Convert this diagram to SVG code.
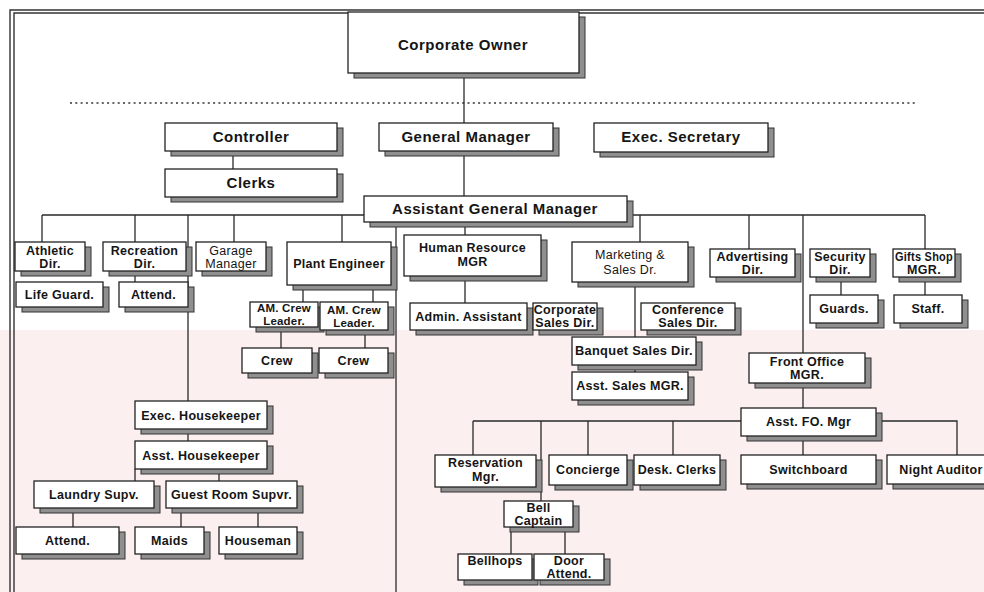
<svg xmlns="http://www.w3.org/2000/svg" width="984" height="592" viewBox="0 0 984 592">
  <style>
    .ln { stroke: #2a2a2a; stroke-width: 1.3; fill: none; }
    .fr { stroke: #333; stroke-width: 1.4; fill: none; }
    .dot { stroke: #333; stroke-width: 1.6; fill: none; stroke-dasharray: 2 3.3; }
    .bx { fill: #fff; stroke: #222; stroke-width: 1.3; }
    .sh { fill: #8f8f8f; stroke: #333; stroke-width: 1; }
    .t { font-family: "Liberation Sans", Arial, sans-serif; font-weight: bold; font-size: 12.5px; letter-spacing: 0.3px; fill: #151515; text-anchor: middle; }
    .tl { font-size: 15px; letter-spacing: 0.5px; }
    .ts { font-size: 11.5px; letter-spacing: 0.2px; }
    .n { font-weight: normal; }
  </style>

  <!-- page background with soft tinted lower band -->
  <rect x="0" y="0" width="984" height="592" fill="#ffffff"/>
  <rect x="0" y="330" width="984" height="262" fill="#fbeff0"/>

  <!-- page frame and the ownership divider -->
  <g id="frame">
    <path class="fr" d="M10 592 V10 H984"/>
    <path class="fr" d="M14 592 V13 H984"/>
    <path class="dot" d="M70 103 H915"/>
  </g>

  <g id="connectors">
    <path class="ln" d="M464 73 V123"/>
    <path class="ln" d="M233 151 V169"/>
    <path class="ln" d="M464 151 V196"/>
    <!-- left bus under the assistant GM -->
    <path class="ln" d="M42 215 H364 M42 215 V242 M135 215 V242 M188 215 V401 M234 215 V242 M342 215 V242"/>
    <!-- right bus -->
    <path class="ln" d="M627 215 H925 M640 215 V242 M749 215 V249 M803 215 V353 M925 215 V249"/>
    <path class="ln" d="M396 222 V592"/>
    <path class="ln" d="M465 222 V235 M465 276 V303"/>
    <path class="ln" d="M635 282 V337 M635 365 V372"/>
    <path class="ln" d="M841 277 V295 M925 277 V295"/>
    <path class="ln" d="M135 271 V282"/>
    <path class="ln" d="M303 285 V302 M373 285 V302 M281 327 V348 M365 330 V348"/>
    <!-- front office branch -->
    <path class="ln" d="M803 383 V408 M803 436 V455"/>
    <path class="ln" d="M473 421 H741 M876 421 H957 V455 M473 421 V455 M541 421 V501 M588 421 V455 M673 421 V455"/>
    <path class="ln" d="M511 527 V554 M565 527 V554"/>
    <!-- housekeeping branch -->
    <path class="ln" d="M188 429 V441 M135 469 V481 M219 469 V481"/>
    <path class="ln" d="M73 508 V527 M181 508 V527 M258 508 V527"/>
  </g>

  <g id="corporate-owner"><rect class="sh" x="354" y="17" width="231" height="61"/><rect class="bx" x="348" y="12" width="231" height="61"/><text class="t tl" x="463" y="50">Corporate Owner</text></g>
  <g id="controller"><rect class="sh" x="171" y="128" width="172" height="28"/><rect class="bx" x="165" y="123" width="172" height="28"/><text class="t tl" x="251" y="142">Controller</text></g>
  <g id="general-manager"><rect class="sh" x="385" y="128" width="174" height="28"/><rect class="bx" x="379" y="123" width="174" height="28"/><text class="t tl" x="466" y="142">General Manager</text></g>
  <g id="exec-secretary"><rect class="sh" x="600" y="128" width="174" height="29"/><rect class="bx" x="594" y="123" width="174" height="29"/><text class="t tl" x="681" y="142">Exec. Secretary</text></g>
  <g id="clerks"><rect class="sh" x="171" y="174" width="172" height="28"/><rect class="bx" x="165" y="169" width="172" height="28"/><text class="t tl" x="251" y="188">Clerks</text></g>
  <g id="assistant-gm"><rect class="sh" x="370" y="201" width="263" height="26"/><rect class="bx" x="364" y="196" width="263" height="26"/><text class="t tl" x="495" y="214">Assistant General Manager</text></g>

  <g id="athletic-dir"><rect class="sh" x="21" y="247" width="70" height="29"/><rect class="bx" x="15" y="242" width="70" height="29"/><text class="t" x="50" y="255">Athletic</text><text class="t" x="50" y="268">Dir.</text></g>
  <g id="recreation-dir"><rect class="sh" x="109" y="247" width="83" height="29"/><rect class="bx" x="103" y="242" width="83" height="29"/><text class="t" x="144.5" y="255">Recreation</text><text class="t" x="144.5" y="268">Dir.</text></g>
  <g id="garage-manager"><rect class="sh" x="202" y="247" width="70" height="29"/><rect class="bx" x="196" y="242" width="70" height="29"/><text class="t n" x="231" y="255">Garage</text><text class="t n" x="231" y="268">Manager</text></g>
  <g id="plant-engineer"><rect class="sh" x="293" y="247" width="104" height="43"/><rect class="bx" x="287" y="242" width="104" height="43"/><text class="t" x="339" y="268">Plant Engineer</text></g>
  <g id="life-guard"><rect class="sh" x="22" y="287" width="87" height="25"/><rect class="bx" x="16" y="282" width="87" height="25"/><text class="t" x="59.5" y="299">Life Guard.</text></g>
  <g id="recreation-attend"><rect class="sh" x="125" y="287" width="69" height="25"/><rect class="bx" x="119" y="282" width="69" height="25"/><text class="t" x="153.5" y="299">Attend.</text></g>
  <g id="crew-leader-1"><rect class="sh" x="256" y="307" width="68" height="25"/><rect class="bx" x="250" y="302" width="68" height="25"/><text class="t ts" x="284" y="312">AM. Crew</text><text class="t ts" x="284" y="325">Leader.</text></g>
  <g id="crew-leader-2"><rect class="sh" x="326" y="307" width="68" height="28"/><rect class="bx" x="320" y="302" width="68" height="28"/><text class="t ts" x="354" y="314">AM. Crew</text><text class="t ts" x="354" y="327">Leader.</text></g>
  <g id="crew-1"><rect class="sh" x="248" y="353" width="70" height="25"/><rect class="bx" x="242" y="348" width="70" height="25"/><text class="t" x="277" y="365">Crew</text></g>
  <g id="crew-2"><rect class="sh" x="325" y="353" width="69" height="25"/><rect class="bx" x="319" y="348" width="69" height="25"/><text class="t" x="353.5" y="365">Crew</text></g>

  <g id="human-resource"><rect class="sh" x="410" y="240" width="137" height="41"/><rect class="bx" x="404" y="235" width="137" height="41"/><text class="t" x="472.5" y="252">Human Resource</text><text class="t" x="472.5" y="266">MGR</text></g>
  <g id="marketing-sales"><rect class="sh" x="578" y="247" width="116" height="40"/><rect class="bx" x="572" y="242" width="116" height="40"/><text class="t n" x="630" y="259">Marketing &amp;</text><text class="t n" x="630" y="274">Sales Dr.</text></g>
  <g id="advertising-dir"><rect class="sh" x="716" y="254" width="85" height="28"/><rect class="bx" x="710" y="249" width="85" height="28"/><text class="t" x="752.5" y="261">Advertising</text><text class="t" x="752.5" y="274">Dir.</text></g>
  <g id="security-dir"><rect class="sh" x="816" y="254" width="60" height="28"/><rect class="bx" x="810" y="249" width="60" height="28"/><text class="t" x="840" y="261">Security</text><text class="t" x="840" y="274">Dir.</text></g>
  <g id="gifts-shop"><rect class="sh" x="899" y="254" width="62" height="28"/><rect class="bx" x="893" y="249" width="62" height="28"/><text class="t" x="924" y="261" textLength="58" lengthAdjust="spacingAndGlyphs">Gifts Shop</text><text class="t" x="924" y="274">MGR.</text></g>
  <g id="admin-assistant"><rect class="sh" x="416" y="308" width="117" height="27"/><rect class="bx" x="410" y="303" width="117" height="27"/><text class="t" x="468.5" y="321">Admin. Assistant</text></g>
  <g id="corporate-sales"><rect class="sh" x="539" y="308" width="64" height="27"/><rect class="bx" x="533" y="303" width="64" height="27"/><text class="t" x="565" y="314">Corporate</text><text class="t" x="565" y="327">Sales Dir.</text></g>
  <g id="conference-sales"><rect class="sh" x="647" y="308" width="94" height="27"/><rect class="bx" x="641" y="303" width="94" height="27"/><text class="t" x="688" y="314">Conference</text><text class="t" x="688" y="327">Sales Dir.</text></g>
  <g id="guards"><rect class="sh" x="816" y="300" width="68" height="28"/><rect class="bx" x="810" y="295" width="68" height="28"/><text class="t" x="844" y="313">Guards.</text></g>
  <g id="staff"><rect class="sh" x="900" y="300" width="68" height="28"/><rect class="bx" x="894" y="295" width="68" height="28"/><text class="t" x="928" y="313">Staff.</text></g>
  <g id="banquet-sales"><rect class="sh" x="578" y="342" width="124" height="28"/><rect class="bx" x="572" y="337" width="124" height="28"/><text class="t" x="634" y="355" textLength="118" lengthAdjust="spacingAndGlyphs">Banquet Sales Dir.</text></g>
  <g id="asst-sales"><rect class="sh" x="578" y="377" width="116" height="28"/><rect class="bx" x="572" y="372" width="116" height="28"/><text class="t" x="630" y="390">Asst. Sales MGR.</text></g>

  <g id="front-office"><rect class="sh" x="755" y="358" width="116" height="30"/><rect class="bx" x="749" y="353" width="116" height="30"/><text class="t" x="807" y="366">Front Office</text><text class="t" x="807" y="379">MGR.</text></g>
  <g id="asst-fo"><rect class="sh" x="747" y="413" width="135" height="28"/><rect class="bx" x="741" y="408" width="135" height="28"/><text class="t" x="808.5" y="426">Asst. FO. Mgr</text></g>
  <g id="reservation"><rect class="sh" x="441" y="460" width="101" height="32"/><rect class="bx" x="435" y="455" width="101" height="32"/><text class="t" x="485.5" y="467">Reservation</text><text class="t" x="485.5" y="481">Mgr.</text></g>
  <g id="concierge"><rect class="sh" x="555" y="460" width="78" height="30"/><rect class="bx" x="549" y="455" width="78" height="30"/><text class="t" x="588" y="474">Concierge</text></g>
  <g id="desk-clerks"><rect class="sh" x="640" y="460" width="86" height="30"/><rect class="bx" x="634" y="455" width="86" height="30"/><text class="t" x="677" y="474">Desk. Clerks</text></g>
  <g id="switchboard"><rect class="sh" x="747" y="460" width="135" height="29"/><rect class="bx" x="741" y="455" width="135" height="29"/><text class="t" x="808.5" y="474">Switchboard</text></g>
  <g id="night-auditor"><rect class="sh" x="893" y="460" width="110" height="29"/><rect class="bx" x="887" y="455" width="110" height="29"/><text class="t" x="941" y="474">Night Auditor</text></g>
  <g id="bell-captain"><rect class="sh" x="510" y="506" width="69" height="26"/><rect class="bx" x="504" y="501" width="69" height="26"/><text class="t" x="538.5" y="512">Bell</text><text class="t" x="538.5" y="525">Captain</text></g>
  <g id="bellhops"><rect class="sh" x="464" y="559" width="74" height="26"/><rect class="bx" x="458" y="554" width="74" height="26"/><text class="t" x="495" y="565">Bellhops</text></g>
  <g id="door-attend"><rect class="sh" x="540" y="559" width="70" height="26"/><rect class="bx" x="534" y="554" width="70" height="26"/><text class="t" x="569" y="565">Door</text><text class="t" x="569" y="578">Attend.</text></g>

  <g id="exec-housekeeper"><rect class="sh" x="141" y="406" width="132" height="28"/><rect class="bx" x="135" y="401" width="132" height="28"/><text class="t" x="201" y="420">Exec. Housekeeper</text></g>
  <g id="asst-housekeeper"><rect class="sh" x="141" y="446" width="132" height="28"/><rect class="bx" x="135" y="441" width="132" height="28"/><text class="t" x="201" y="460">Asst. Housekeeper</text></g>
  <g id="laundry-supv"><rect class="sh" x="40" y="486" width="120" height="27"/><rect class="bx" x="34" y="481" width="120" height="27"/><text class="t" x="94" y="499">Laundry Supv.</text></g>
  <g id="guest-room-supv"><rect class="sh" x="172" y="486" width="131" height="27"/><rect class="bx" x="166" y="481" width="131" height="27"/><text class="t" x="231.5" y="499">Guest Room Supvr.</text></g>
  <g id="laundry-attend"><rect class="sh" x="22" y="532" width="103" height="27"/><rect class="bx" x="16" y="527" width="103" height="27"/><text class="t" x="67.5" y="545">Attend.</text></g>
  <g id="maids"><rect class="sh" x="141" y="532" width="69" height="27"/><rect class="bx" x="135" y="527" width="69" height="27"/><text class="t" x="169.5" y="545">Maids</text></g>
  <g id="houseman"><rect class="sh" x="225" y="532" width="78" height="27"/><rect class="bx" x="219" y="527" width="78" height="27"/><text class="t" x="258" y="545">Houseman</text></g>
</svg>
